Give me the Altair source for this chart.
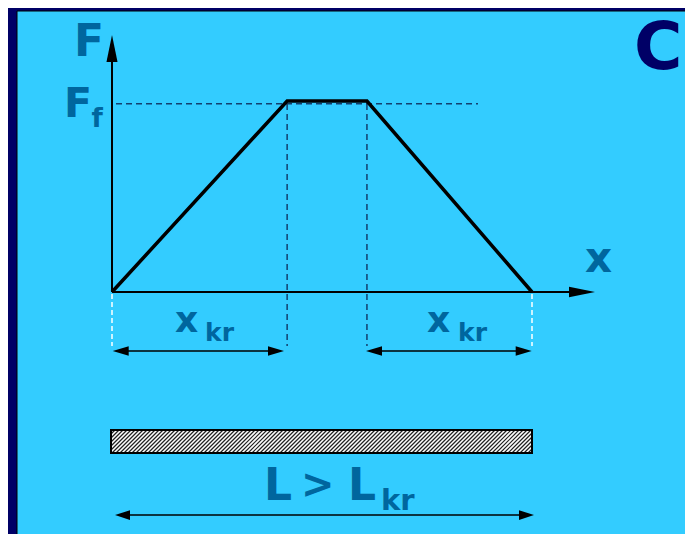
import altair as alt
import pandas as pd
import numpy as np

# ---- diagram data (rod length L = 10, force in units of Ff) ----
x_points = [0.0, 4.17, 6.07, 10.0]      # positions of the force profile break points
F_points = [0.0, 1.0, 1.0, 0.0]         # force values at those points
plateau_edges = [4.17, 6.07]            # where the force reaches / leaves Ff
rod_ends = [0.0, 10.0]                  # ends of the rod
Ff = 1.0
L = 10.0

labels_main = ["F", "x", "C"]
sub_kr = "kr"

# ---- layout ----
W, H = 677, 526
OX, OY = 104.0, 284.0        # chart pixel of the origin
SX, SY = 42.0, 191.0         # pixels per unit
FONT = "DejaVu Sans"
TEAL = "#00669e"
NAVY = "#000066"
CYAN = "#33ccff"
DASH = "#123f6e"

def px(ref):
    return ref - 8.0

def ux(ref):
    return (px(ref) - OX) / SX

def uy(ref):
    return (OY - px(ref)) / SY

XS = alt.Scale(domain=[-OX / SX, (W - OX) / SX], nice=False, zero=False)
YS = alt.Scale(domain=[(OY - H) / SY, OY / SY], nice=False, zero=False)

def X(f):
    return alt.X(f, type="quantitative", scale=XS, axis=None)

def Y(f):
    return alt.Y(f, type="quantitative", scale=YS, axis=None)

one = pd.DataFrame({"a": [0]})

# background panel
bg = alt.Chart(one).mark_rect(fill=CYAN, stroke="#000000", strokeWidth=1).encode(
    x=alt.value(9), x2=alt.value(W + 2), y=alt.value(3), y2=alt.value(H + 2)
)

# Ff dashed line
ff_df = pd.DataFrame({"y": [Ff], "x1": [ux(116)], "x2": [ux(478)]})
ff_line = alt.Chart(ff_df).mark_rule(color=DASH, strokeWidth=1.5, strokeDash=[6, 4], yOffset=2.7).encode(
    x=X("x1"), x2="x2", y=Y("y")
)

# vertical dashed lines at plateau edges
pe_df = pd.DataFrame({"x": plateau_edges, "y1": [uy(104)] * 2, "y2": [uy(346)] * 2})
pe_lines = alt.Chart(pe_df).mark_rule(color=DASH, strokeWidth=1.5, strokeDash=[6, 4]).encode(
    x=X("x"), y=Y("y1"), y2="y2"
)

# white dashed lines at rod ends
re_df = pd.DataFrame({"x": rod_ends, "y1": [uy(294)] * 2, "y2": [uy(346)] * 2})
re_lines = alt.Chart(re_df).mark_rule(color="#ffffff", strokeWidth=1.5, strokeDash=[5, 3]).encode(
    x=X("x"), y=Y("y1"), y2="y2"
)

# axes
ax_df = pd.DataFrame({
    "x1": [0.0, 0.0], "x2": [0.0, ux(575)],
    "y1": [0.0, 0.0], "y2": [uy(50), 0.0],
})
axes = alt.Chart(ax_df).mark_rule(color="#000000", strokeWidth=2).encode(
    x=X("x1"), x2="x2", y=Y("y1"), y2="y2"
)
up_head = alt.Chart(pd.DataFrame({"x": [0.0], "y": [uy(48.5)]})).mark_point(
    shape="M0,-1L0.41,1L-0.41,1Z", size=729, filled=True, fill="#000000", opacity=1, strokeWidth=0
).encode(x=X("x"), y=Y("y"))
right_head = alt.Chart(pd.DataFrame({"x": [ux(582)], "y": [0.0]})).mark_point(
    shape="M1,0L-1,-0.41L-1,0.41Z", size=676, filled=True, fill="#000000", opacity=1, strokeWidth=0
).encode(x=X("x"), y=Y("y"))

# force profile
prof_df = pd.DataFrame({"x": x_points, "F": F_points, "o": list(range(len(x_points)))})
profile = alt.Chart(prof_df).mark_line(color="#000000", strokeWidth=3.5, strokeJoin="miter").encode(
    x=X("x"), y=Y("F"), order="o:O"
)

# dimension arrows
dims = [
    (112.7, 284.0, 351.0, 16, 0.6),
    (366.0, 531.7, 351.0, 16, 0.6),
    (115.0, 534.0, 515.0, 15, 0.65),
]
dim_layers = []
for a, b, yy, ln, hw in dims:
    d = pd.DataFrame({"x1": [ux(a + 4)], "x2": [ux(b - 4)], "y": [uy(yy)]})
    dim_layers.append(alt.Chart(d).mark_rule(color="#000000", strokeWidth=1.6).encode(
        x=X("x1"), x2="x2", y=Y("y")))
    lh = pd.DataFrame({"x": [ux(a + ln / 2)], "y": [uy(yy)]})
    rh = pd.DataFrame({"x": [ux(b - ln / 2)], "y": [uy(yy)]})
    dim_layers.append(alt.Chart(lh).mark_point(
        shape=f"M-1,0L1,-{hw}L1,{hw}Z", size=ln * ln, filled=True, fill="#000000", opacity=1, strokeWidth=0
    ).encode(x=X("x"), y=Y("y")))
    dim_layers.append(alt.Chart(rh).mark_point(
        shape=f"M1,0L-1,-{hw}L-1,{hw}Z", size=ln * ln, filled=True, fill="#000000", opacity=1, strokeWidth=0
    ).encode(x=X("x"), y=Y("y")))

# hatched rod
rx0, rx1, ry0, ry1 = 111.0, 532.0, 430.0, 453.0
rod_df = pd.DataFrame({"x1": [ux(rx0)], "x2": [ux(rx1)], "y1": [uy(ry0)], "y2": [uy(ry1)]})
rod_fill = alt.Chart(rod_df).mark_rect(fill="#ffffff").encode(
    x=X("x1"), x2="x2", y=Y("y1"), y2="y2")
hh = ry1 - ry0
segs = []
for c in np.arange(rx0 - hh, rx1, 4.0):
    sx, sy = c, ry1
    ex, ey = c + hh, ry0
    if sx < rx0:
        sy = ry1 - (rx0 - sx)
        sx = rx0
    if ex > rx1:
        ey = ry0 + (ex - rx1)
        ex = rx1
    segs.append({"x1": ux(sx), "y1": uy(sy), "x2": ux(ex), "y2": uy(ey)})
hatch = alt.Chart(pd.DataFrame(segs)).mark_rule(color="#222222", strokeWidth=1.2).encode(
    x=X("x1"), x2="x2", y=Y("y1"), y2="y2")
rod_border = alt.Chart(rod_df).mark_rect(fillOpacity=0, stroke="#000000", strokeWidth=2).encode(
    x=X("x1"), x2="x2", y=Y("y1"), y2="y2")

# texts
def label(text, xr, yr, size, color=TEAL, align="left"):
    return alt.Chart(one).mark_text(
        text=text, font=FONT, fontWeight="bold", fontSize=size, color=color,
        align=align, baseline="alphabetic"
    ).encode(x=alt.value(px(xr)), y=alt.value(px(yr)))

texts = [
    label(labels_main[0], 74, 56, 44),
    label("F", 64, 117, 41),
    label("f", 91.5, 127, 26),
    label(labels_main[1], 585, 272, 42),
    label("x", 175, 332, 36),
    label(sub_kr, 205, 341, 25),
    label("x", 427, 332, 36),
    label(sub_kr, 458, 341, 25),
    label("L", 264, 500, 44),
    label(">", 301, 498, 40),
    label("L", 348, 500, 44),
    label(sub_kr, 381, 510, 29),
    label(labels_main[2], 634, 69, 66, color=NAVY),
]

chart = alt.layer(
    bg, rod_fill, hatch, rod_border, ff_line, pe_lines, re_lines, axes, up_head, right_head,
    profile, *dim_layers, *texts
).properties(
    width=W, height=H, padding=0, background=NAVY,
    autosize=alt.AutoSizeParams(type="none")
).configure_view(stroke=None)

chart.save("out.html", embed_options={"renderer": "svg", "actions": False})
